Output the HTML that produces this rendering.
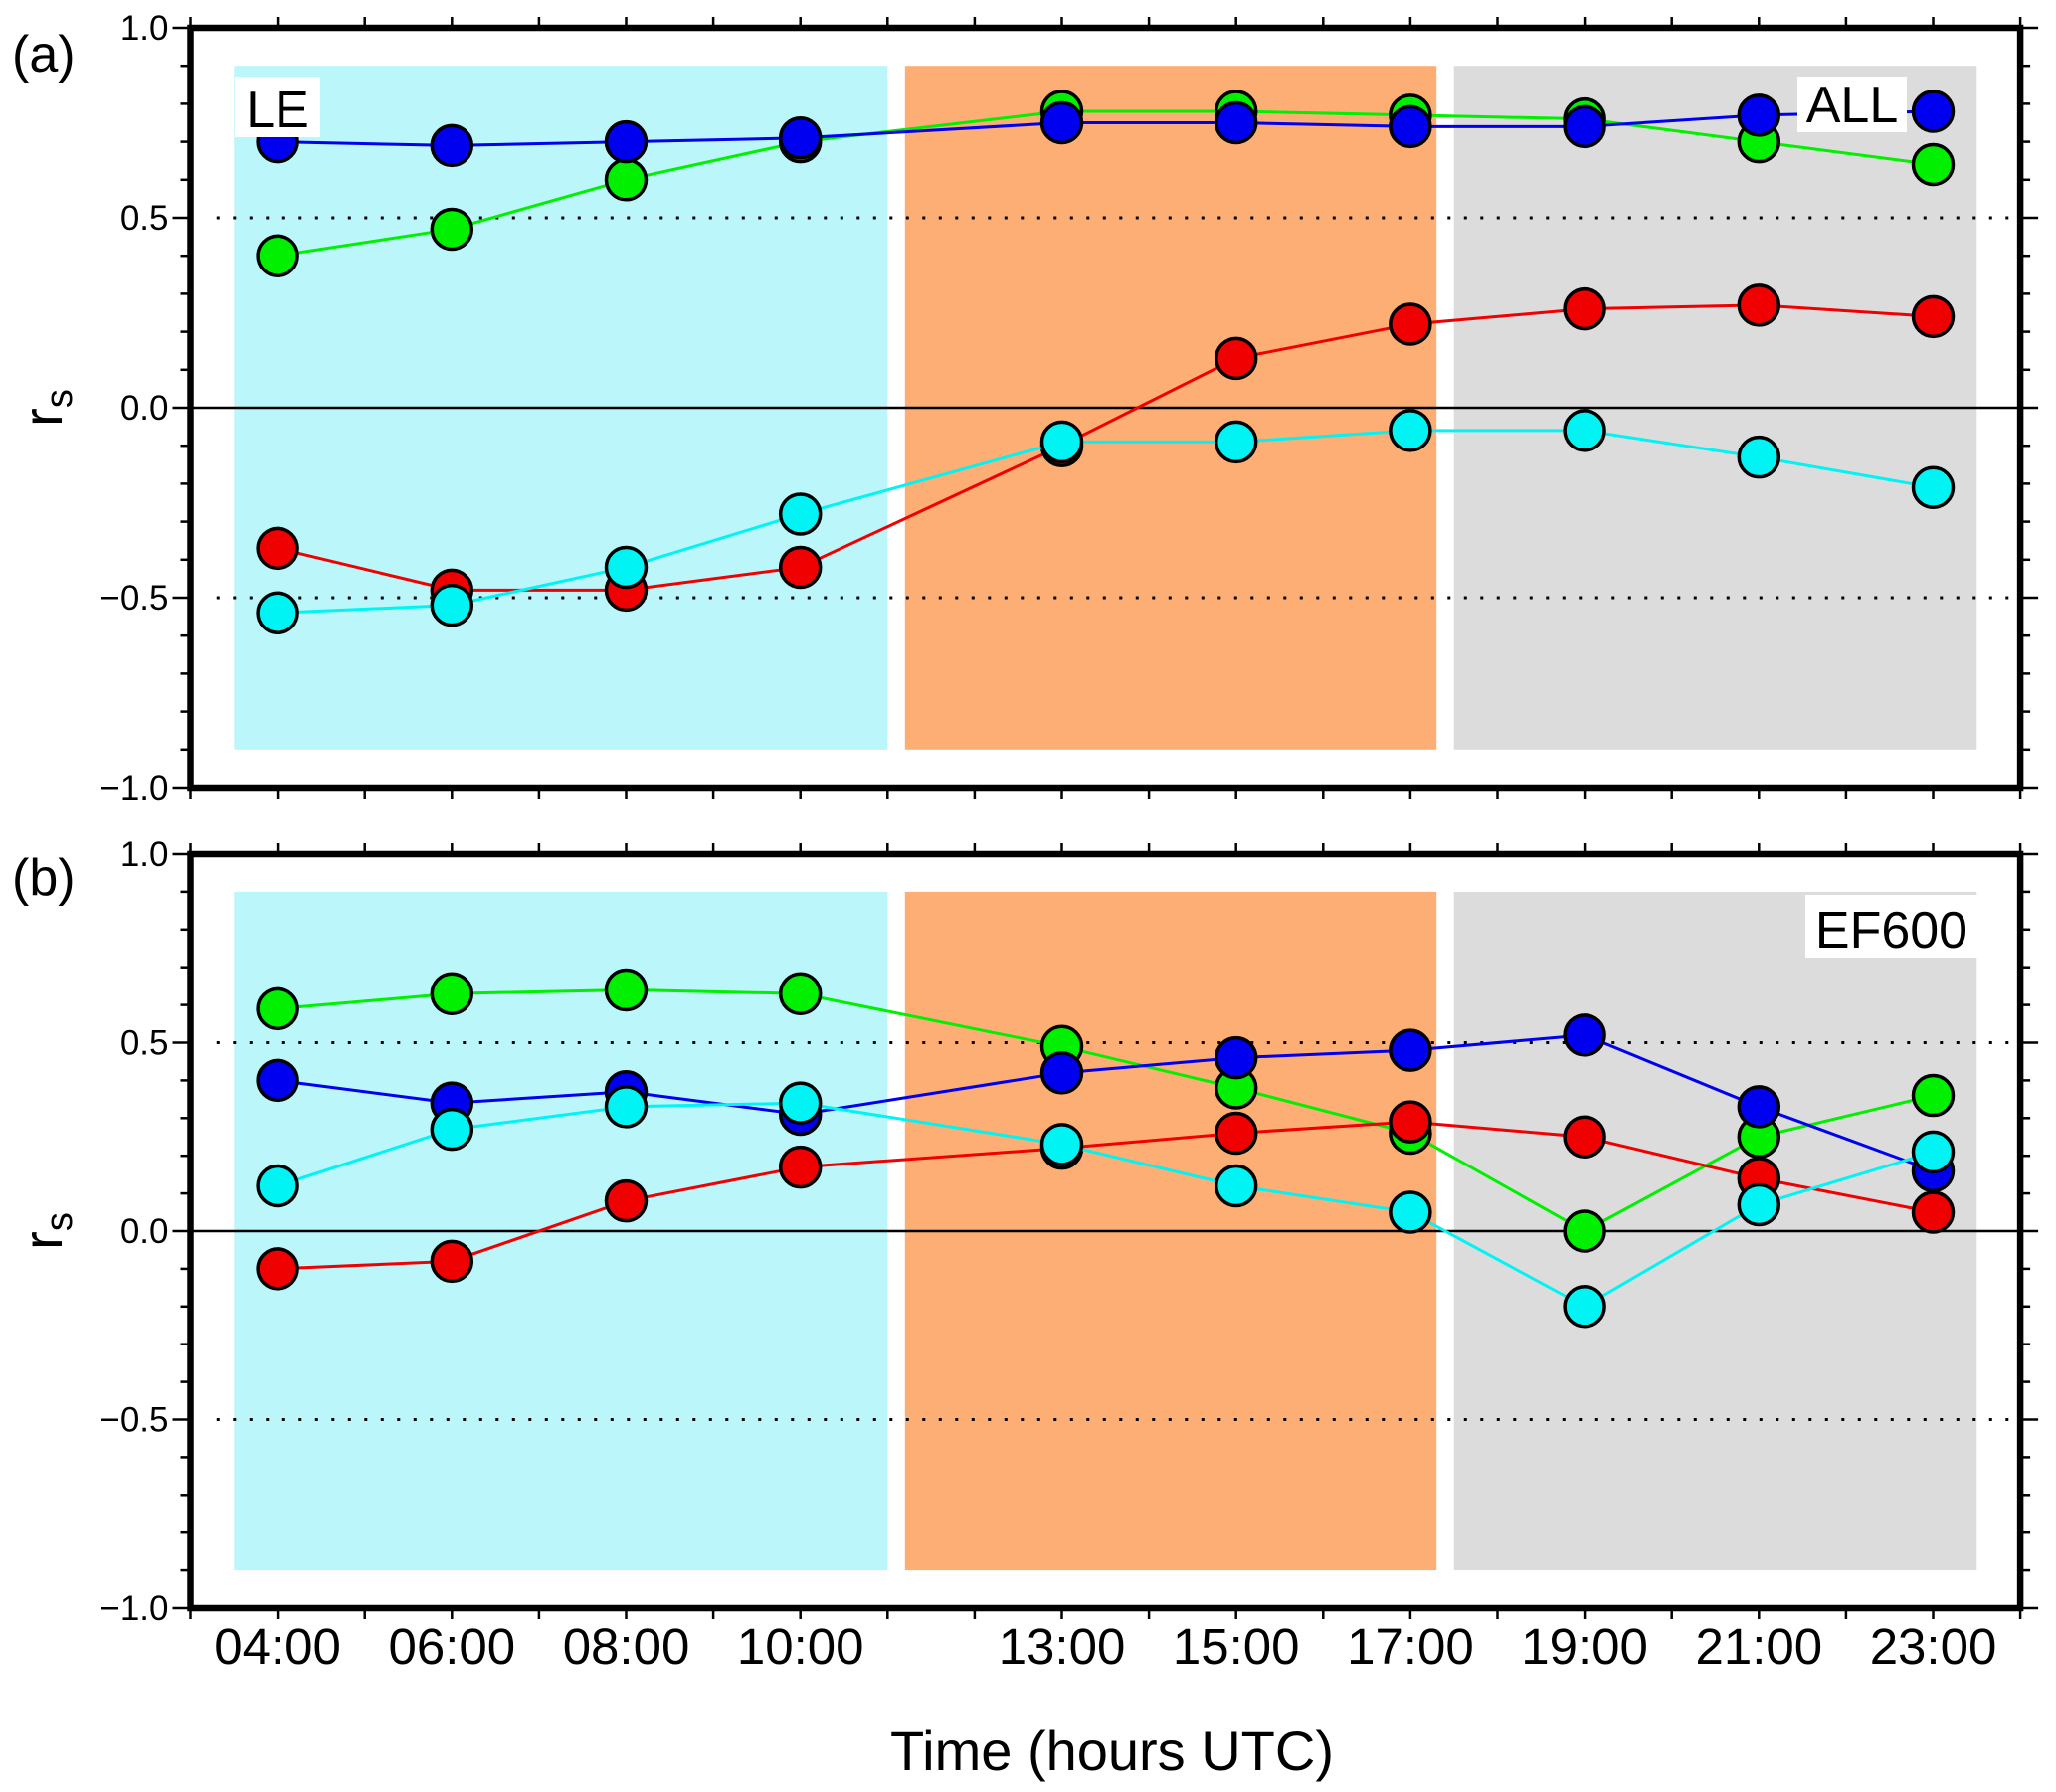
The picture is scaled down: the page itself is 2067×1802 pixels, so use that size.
<!DOCTYPE html>
<html><head><meta charset="utf-8"><style>html,body{margin:0;padding:0;background:#fff}svg{display:block}text{font-family:"Liberation Sans",sans-serif;fill:#000}</style></head>
<body>
<svg id="chart" width="2067" height="1802" viewBox="0 0 2067 1802" xmlns="http://www.w3.org/2000/svg"></svg>
<script>
const hours = [4,6,8,10,13,15,17,19,21,23];
const hourLabels = ["04:00","06:00","08:00","10:00","13:00","15:00","17:00","19:00","21:00","23:00"];
const yTicks = [1.0,0.5,0.0,-0.5,-1.0];
const yTickLabels = ["1.0","0.5","0.0","\u22120.5","\u22121.0"];
const aGreen = [0.40,0.47,0.60,0.70,0.78,0.78,0.77,0.76,0.70,0.64];
const aBlue  = [0.70,0.69,0.70,0.71,0.75,0.75,0.74,0.74,0.77,0.78];
const aRed   = [-0.37,-0.48,-0.48,-0.42,-0.10,0.13,0.22,0.26,0.27,0.24];
const aCyan  = [-0.54,-0.52,-0.42,-0.28,-0.09,-0.09,-0.06,-0.06,-0.13,-0.21];
const bGreen = [0.59,0.63,0.64,0.63,0.49,0.38,0.26,0.00,0.25,0.36];
const bBlue  = [0.40,0.34,0.37,0.31,0.42,0.46,0.48,0.52,0.33,0.16];
const bRed   = [-0.10,-0.08,0.08,0.17,0.22,0.26,0.29,0.25,0.14,0.05];
const bCyan  = [0.12,0.27,0.33,0.34,0.23,0.12,0.05,-0.20,0.07,0.21];

const NS="http://www.w3.org/2000/svg";
const svg=document.getElementById('chart');
function mk(tag,attrs,parent){const e=document.createElementNS(NS,tag);for(const k in attrs)e.setAttribute(k,attrs[k]);(parent||svg).appendChild(e);return e;}
const X0=191.5, XS=87.6;
function x(h){return X0+(h-3)*XS;}
const panels=[
 {top:28, scale:382, tag:'(a)', tagY:72, series:[['green',aGreen,'#00f000'],['blue',aBlue,'#0000f0'],['red',aRed,'#f00000'],['cyan',aCyan,'#00f4f4']], labels:[['LE',236,77,86,61],['ALL',1807,77,110,56]], name:'panel-a'},
 {top:859, scale:379, tag:'(b)', tagY:900, series:[['green',bGreen,'#00f000'],['blue',bBlue,'#0000f0'],['red',bRed,'#f00000'],['cyan',bCyan,'#00f4f4']], labels:[['EF600',1815,900,173,63]], name:'panel-b'}
];
panels.forEach((p,pi)=>{
 const y=v=>p.top+(1-v)*p.scale;
 const g=mk('g',{});
 
 
 const bands=[[3.5,11.0,'#bbf6fb','night-band'],[11.2,17.3,'#fdae74','day-band'],[17.5,23.5,'#dcdcdc','evening-band']];
 bands.forEach(b=>{const r=mk('rect',{x:x(b[0]),y:y(0.9),width:x(b[1])-x(b[0]),height:y(-0.9)-y(0.9),fill:b[2]},g);
  
  });
 [0.5,-0.5].forEach(v=>{const l=mk('line',{x1:x(3.3),x2:x(24),y1:y(v),y2:y(v),stroke:'#000','stroke-width':3,'stroke-dasharray':'3 13.5'},g);
  
  });
 const z=mk('line',{x1:x(3),x2:x(24),y1:y(0),y2:y(0),stroke:'#000','stroke-width':2.5},g);
 
 
 p.series.forEach(s=>{
  const sg=mk('g',{},g);
  
  
  mk('polyline',{points:s[1].map((v,i)=>x(hours[i])+','+y(v)).join(' '),fill:'none',stroke:s[2],'stroke-width':3},sg);
  s[1].forEach((v,i)=>{const c=mk('circle',{cx:x(hours[i]),cy:y(v),r:20,fill:s[2],stroke:'#000','stroke-width':3.5},sg);
   
   });
 });
 p.labels.forEach(L=>{
  const lg=mk('g',{},g);
  
  
  mk('rect',{x:L[1],y:L[2],width:L[3],height:L[4],fill:'#fff'},lg);
  const t=mk('text',{x:L[1]+L[3]/2,y:L[2]+L[4]-10,'font-size':52,'text-anchor':'middle'},lg);t.textContent=L[0];
 });
 const fr=mk('rect',{x:x(3),y:y(1),width:x(24)-x(3),height:y(-1)-y(1),fill:'none',stroke:'#000','stroke-width':6.5},g);
 
 
 for(let k=-10;k<=10;k++){const v=k/10, major=(k%5===0), len=major?18:10;
  mk('line',{x1:x(3)-len,x2:x(3),y1:y(v),y2:y(v),stroke:'#000','stroke-width':2.5},g);
  mk('line',{x1:x(24),x2:x(24)+len,y1:y(v),y2:y(v),stroke:'#000','stroke-width':2.5},g);}
 yTicks.forEach((v,i)=>{const t=mk('text',{x:x(3)-22,y:y(v)+12,'font-size':35,'text-anchor':'end'},g);t.textContent=yTickLabels[i];
  
  });
 for(let h=3;h<=24;h++){mk('line',{x1:x(h),x2:x(h),y1:y(1)-11,y2:y(1),stroke:'#000','stroke-width':2.5},g);
  mk('line',{x1:x(h),x2:x(h),y1:y(-1),y2:y(-1)+11,stroke:'#000','stroke-width':2.5},g);}
 const tg=mk('text',{x:12,y:p.tagY,'font-size':52},g);tg.textContent=p.tag;
 
 
 const yt=mk('text',{x:0,y:0,'font-size':56,'text-anchor':'middle',transform:`translate(62,${y(0)}) rotate(-90)`},g);
 yt.innerHTML='r<tspan font-size="38" dy="10">s</tspan>';
 
 
});
hours.forEach((h,i)=>{const t=mk('text',{x:x(h),y:1673,'font-size':51,'text-anchor':'middle'});t.textContent=hourLabels[i];
 
 });
const xt=mk('text',{x:1118,y:1780,'font-size':56,'text-anchor':'middle'});xt.textContent='Time (hours UTC)';


</script>
</body></html>
